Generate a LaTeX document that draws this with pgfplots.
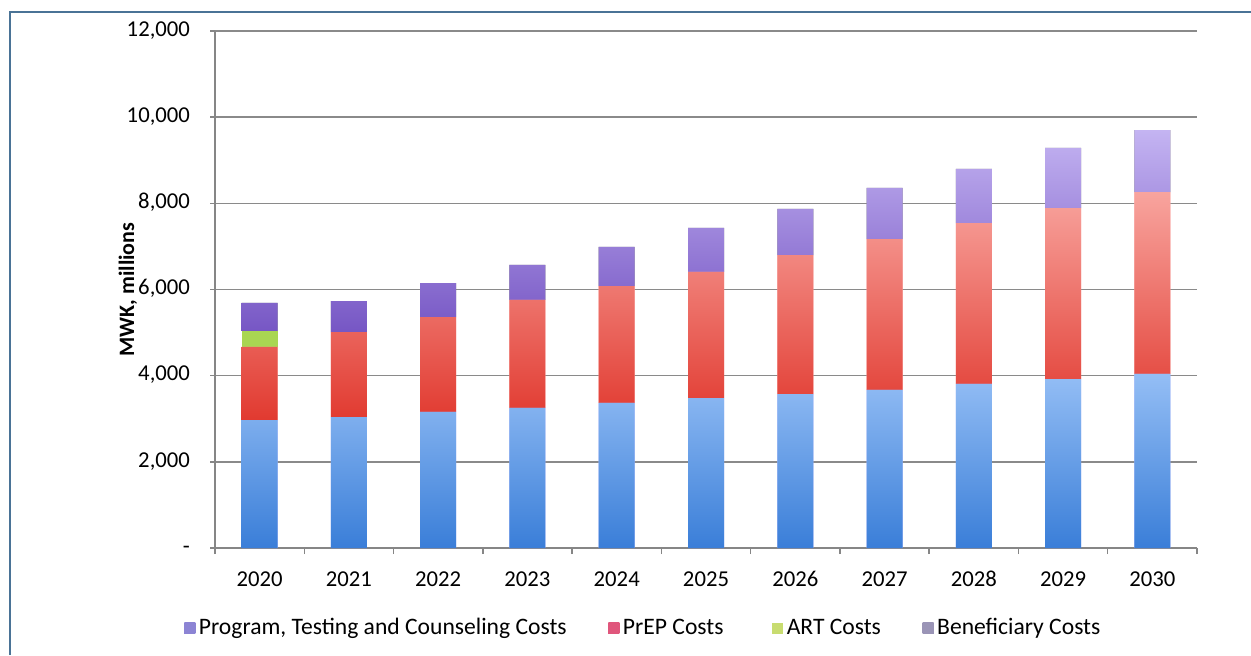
\documentclass[border=0pt]{standalone}
\usepackage{pgfplots}
\pgfplotsset{compat=1.18}
\usepackage{fontspec}
\setmainfont{Carlito}
\definecolor{framecol}{HTML}{4A7396}
\definecolor{axisgray}{HTML}{868686}
\definecolor{gridgray}{HTML}{8A8A8A}
\definecolor{blueT}{HTML}{94BEF5}
\definecolor{blueB}{HTML}{3A7ED8}
\definecolor{redT}{HTML}{F8A49E}
\definecolor{redB}{HTML}{E13A30}
\definecolor{purT}{HTML}{C4B4F2}
\definecolor{purB}{HTML}{7656C4}
\definecolor{grn}{HTML}{A9D652}
\definecolor{legprog}{HTML}{8C84D4}
\definecolor{legprep}{HTML}{E0567C}
\definecolor{legart}{HTML}{C8DC70}
\definecolor{legben}{HTML}{9A94B6}
\begin{document}
\begin{tikzpicture}
\useasboundingbox (-107.5pt,-53.5pt) rectangle (518pt,274pt);
\draw[framecol, line width=1pt] (-102.25pt,-53.5pt) -- (-102.25pt,268pt) -- (518pt,268pt);
\begin{axis}[
  at={(0,0)}, anchor=south west,
  scale only axis, width=491pt, height=258.5pt,
  xmin=-0.5, xmax=10.5, ymin=0, ymax=12000,
  ybar stacked, bar width=18pt,
  scaled y ticks=false,
  axis x line*=bottom, axis y line*=left,
  axis line style={draw=axisgray, line width=0.7pt},
  xtick={0,...,10},
  xticklabels={2020,2021,2022,2023,2024,2025,2026,2027,2028,2029,2030},
  minor xtick={-0.5,0.5,...,10.5},
  ytick={0,2000,4000,6000,8000,10000,12000},
  yticklabels={-,{2,000},{4,000},{6,000},{8,000},{10,000},{12,000}},
  tick align=outside,
  major x tick style={draw=none},
  minor x tick style={draw=axisgray, line width=0.7pt},
  minor tick length=3pt,
  major tick length=2.5pt,
  ytick style={draw=axisgray, line width=0.7pt},
  ymajorgrids, major grid style={draw=gridgray, line width=0.8pt},
  typeset ticklabels with strut,
  tick label style={font=\fontsize{11.35}{13}\selectfont},
  xticklabel style={yshift=-4pt},
  yticklabel style={xshift=-6.5pt},
  ylabel={MWK, millions},
  every axis y label/.style={at={(axis description cs:-0.0886,0.5)}, rotate=90, anchor=center, font=\bfseries\fontsize{11}{13}\selectfont},
  legend style={at={(axis description cs:0.437,-0.155)}, anchor=center, draw=none, fill=none,
    legend columns=-1, font=\fontsize{11.8}{14}\selectfont,
    nodes={inner sep=1.8pt},
    /tikz/every even column/.append style={column sep=19pt}},
]
\addplot+[draw=none, top color=blueT, bottom color=blueB,
  legend image code/.code={\fill[fill=legprog, top color=legprog, bottom color=legprog] (0pt,-2.75pt) rectangle (5.5pt,2.75pt);}]
  coordinates {(0,2970) (1,3040) (2,3160) (3,3250) (4,3370) (5,3480) (6,3570) (7,3670) (8,3810) (9,3920) (10,4040)};
\addlegendentry{Program, Testing and Counseling Costs}
\addplot+[draw=none, top color=redT, bottom color=redB,
  legend image code/.code={\fill[fill=legprep, top color=legprep, bottom color=legprep] (0pt,-2.75pt) rectangle (5.5pt,2.75pt);}]
  coordinates {(0,1700) (1,1970) (2,2200) (3,2510) (4,2710) (5,2930) (6,3230) (7,3500) (8,3730) (9,3970) (10,4220)};
\addlegendentry{PrEP Costs\hspace*{3.5pt}}
\addplot+[draw=none, fill=grn,
  legend image code/.code={\fill[fill=legart] (0pt,-2.75pt) rectangle (5.5pt,2.75pt);}]
  coordinates {(0,370) (1,0) (2,0) (3,0) (4,0) (5,0) (6,0) (7,0) (8,0) (9,0) (10,0)};
\addlegendentry{ART Costs}
\addplot+[draw=none, top color=purT, bottom color=purB,
  legend image code/.code={\fill[fill=legben, top color=legben, bottom color=legben] (0pt,-2.75pt) rectangle (5.5pt,2.75pt);}]
  coordinates {(0,650) (1,720) (2,790) (3,810) (4,910) (5,1020) (6,1070) (7,1190) (8,1260) (9,1400) (10,1440)};
\addlegendentry{Beneficiary Costs}
\end{axis}
\end{tikzpicture}
\end{document}
